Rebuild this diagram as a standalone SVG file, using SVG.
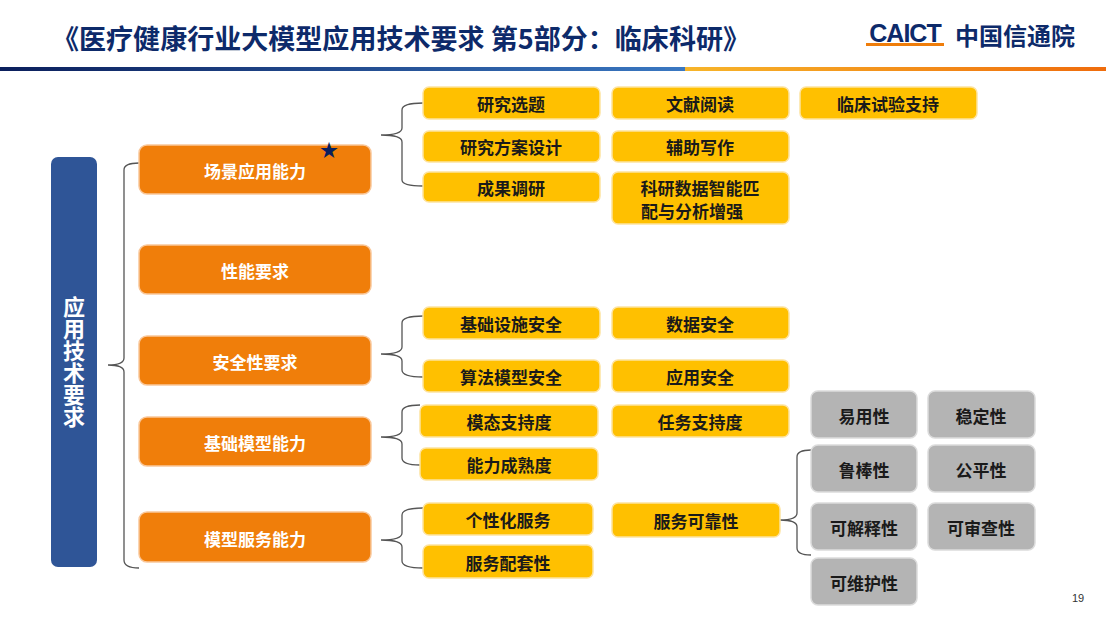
<svg xmlns="http://www.w3.org/2000/svg" width="1106" height="623" viewBox="0 0 1106 623">
<defs>
<linearGradient id="gb" x1="0" x2="1"><stop offset="0" stop-color="#0b1f5c"/><stop offset="1" stop-color="#3a78c2"/></linearGradient>
<linearGradient id="go" x1="0" x2="1"><stop offset="0" stop-color="#f7b52a"/><stop offset="1" stop-color="#ef6c0c"/></linearGradient>
</defs>
<style>
text{font-family:"Noto Sans CJK SC","Noto Sans",sans-serif;font-weight:bold;text-anchor:middle;dominant-baseline:central}
.o{fill:#f07e0a;stroke:#f9c79a;stroke-width:1.5}
.y{fill:#ffc000;stroke:#fde3a0;stroke-width:1.5}
.g{fill:#b4b4b4;stroke:#dcdcdc;stroke-width:1.5}
.ot{fill:#fff;font-size:17px}
.yt{fill:#1a1a1a;font-size:17px}
.br{fill:none;stroke:#555;stroke-width:1.3}
</style>
<rect width="1106" height="623" fill="#fff"/>
<text x="52" y="37" textLength="698" lengthAdjust="spacingAndGlyphs" style="font-size:27px;fill:#0d2a6a;text-anchor:start">《医疗健康行业大模型应用技术要求 第5部分：临床科研》</text>
<text x="905" y="33" style="font-size:25px;fill:#0d2a6a;font-family:'Liberation Sans',sans-serif;letter-spacing:-1px">CAICT</text>
<rect x="866" y="43" width="78" height="3" fill="#ef7d0a"/>
<text x="1015" y="34" style="font-size:24px;fill:#0d2a6a">中国信通院</text>
<rect x="0" y="67" width="685" height="4" fill="url(#gb)"/>
<rect x="685" y="67" width="421" height="4" fill="url(#go)"/>
<text x="1078" y="598" style="font-size:11px;font-weight:normal;fill:#333;font-family:'Liberation Sans',sans-serif">19</text>

<g id="connectors">
<path class="br" d="M139 163 Q124 163 124 170 L124 358 Q124 365 108 365 Q124 365 124 372 L124 560 Q124 568 139 568"/>
<path class="br" d="M423 103 Q402 103 402 110 L402 128 Q402 135 381 135 Q402 135 402 142 L402 180 Q402 186 423 186"/>
<path class="br" d="M423 316 Q402 316 402 323 L402 347 Q402 354 381 354 Q402 354 402 361 L402 370 Q402 377 423 377"/>
<path class="br" d="M420 405 Q402 405 402 412 L402 430 Q402 437 381 437 Q402 437 402 444 L402 458 Q402 465 420 465"/>
<path class="br" d="M423 508 Q402 508 402 515 L402 533 Q402 540 381 540 Q402 540 402 547 L402 561 Q402 568 423 568"/>
<path class="br" d="M811 450 Q797 450 797 457 L797 513 Q797 520 780 520 Q797 520 797 527 L797 548 Q797 555 811 555"/>
</g>

<g id="root"><rect x="51" y="157" width="46" height="410" rx="7" fill="#2f5597"/>
<text x="74" y="362" style="font-size:22px;fill:#fff;writing-mode:vertical-rl;dominant-baseline:auto">应用技术要求</text></g>

<g id="n1"><rect class="o" x="139" y="145" width="232" height="49" rx="8"/><text class="ot" x="255" y="170">场景应用能力</text>
<text x="329" y="149" style="font-size:18px;fill:#0b1f5c">★</text></g>
<g id="n2"><rect class="o" x="139" y="245" width="232" height="49" rx="8"/><text class="ot" x="255" y="270">性能要求</text></g>
<g id="n3"><rect class="o" x="139" y="336" width="232" height="49" rx="8"/><text class="ot" x="255" y="361">安全性要求</text></g>
<g id="n4"><rect class="o" x="139" y="417" width="232" height="49" rx="8"/><text class="ot" x="255" y="442">基础模型能力</text></g>
<g id="n5"><rect class="o" x="139" y="512" width="232" height="50" rx="8"/><text class="ot" x="255" y="538">模型服务能力</text></g>

<g id="y1"><rect class="y" x="423" y="87" width="177" height="32" rx="6"/><text class="yt" x="511" y="103">研究选题</text></g>
<g id="y2"><rect class="y" x="612" y="87" width="177" height="32" rx="6"/><text class="yt" x="700" y="103">文献阅读</text></g>
<g id="y3"><rect class="y" x="800" y="87" width="177" height="32" rx="6"/><text class="yt" x="888" y="103">临床试验支持</text></g>
<g id="y4"><rect class="y" x="423" y="131" width="177" height="31" rx="6"/><text class="yt" x="511" y="146">研究方案设计</text></g>
<g id="y5"><rect class="y" x="612" y="131" width="177" height="31" rx="6"/><text class="yt" x="700" y="146">辅助写作</text></g>
<g id="y6"><rect class="y" x="423" y="172" width="177" height="30" rx="6"/><text class="yt" x="511" y="187">成果调研</text></g>
<g id="y7"><rect class="y" x="612" y="172" width="177" height="52" rx="6"/><text class="yt" x="700" y="187">科研数据智能匹</text><text class="yt" x="692" y="210">配与分析增强</text></g>
<g id="y8"><rect class="y" x="423" y="307" width="177" height="32" rx="6"/><text class="yt" x="511" y="323">基础设施安全</text></g>
<g id="y9"><rect class="y" x="612" y="307" width="177" height="32" rx="6"/><text class="yt" x="700" y="323">数据安全</text></g>
<g id="y10"><rect class="y" x="423" y="360" width="177" height="32" rx="6"/><text class="yt" x="511" y="376">算法模型安全</text></g>
<g id="y11"><rect class="y" x="612" y="360" width="177" height="32" rx="6"/><text class="yt" x="700" y="376">应用安全</text></g>
<g id="y12"><rect class="y" x="420" y="405" width="178" height="32" rx="6"/><text class="yt" x="509" y="421">模态支持度</text></g>
<g id="y13"><rect class="y" x="612" y="405" width="177" height="32" rx="6"/><text class="yt" x="700" y="421">任务支持度</text></g>
<g id="y14"><rect class="y" x="420" y="448" width="178" height="32" rx="6"/><text class="yt" x="509" y="464">能力成熟度</text></g>
<g id="y15"><rect class="y" x="423" y="503" width="170" height="32" rx="6"/><text class="yt" x="508" y="519">个性化服务</text></g>
<g id="y16"><rect class="y" x="612" y="503" width="168" height="34" rx="6"/><text class="yt" x="696" y="520">服务可靠性</text></g>
<g id="y17"><rect class="y" x="423" y="545" width="170" height="33" rx="6"/><text class="yt" x="508" y="562">服务配套性</text></g>

<g id="g1"><rect class="g" x="811" y="391" width="106" height="47" rx="7"/><text class="yt" x="864" y="415">易用性</text></g>
<g id="g2"><rect class="g" x="928" y="391" width="107" height="47" rx="7"/><text class="yt" x="981" y="415">稳定性</text></g>
<g id="g3"><rect class="g" x="811" y="445" width="106" height="47" rx="7"/><text class="yt" x="864" y="469">鲁棒性</text></g>
<g id="g4"><rect class="g" x="928" y="445" width="107" height="47" rx="7"/><text class="yt" x="981" y="469">公平性</text></g>
<g id="g5"><rect class="g" x="811" y="503" width="106" height="47" rx="7"/><text class="yt" x="864" y="527">可解释性</text></g>
<g id="g6"><rect class="g" x="928" y="503" width="107" height="47" rx="7"/><text class="yt" x="981" y="527">可审查性</text></g>
<g id="g7"><rect class="g" x="811" y="558" width="106" height="47" rx="7"/><text class="yt" x="864" y="582">可维护性</text></g>
</svg>
